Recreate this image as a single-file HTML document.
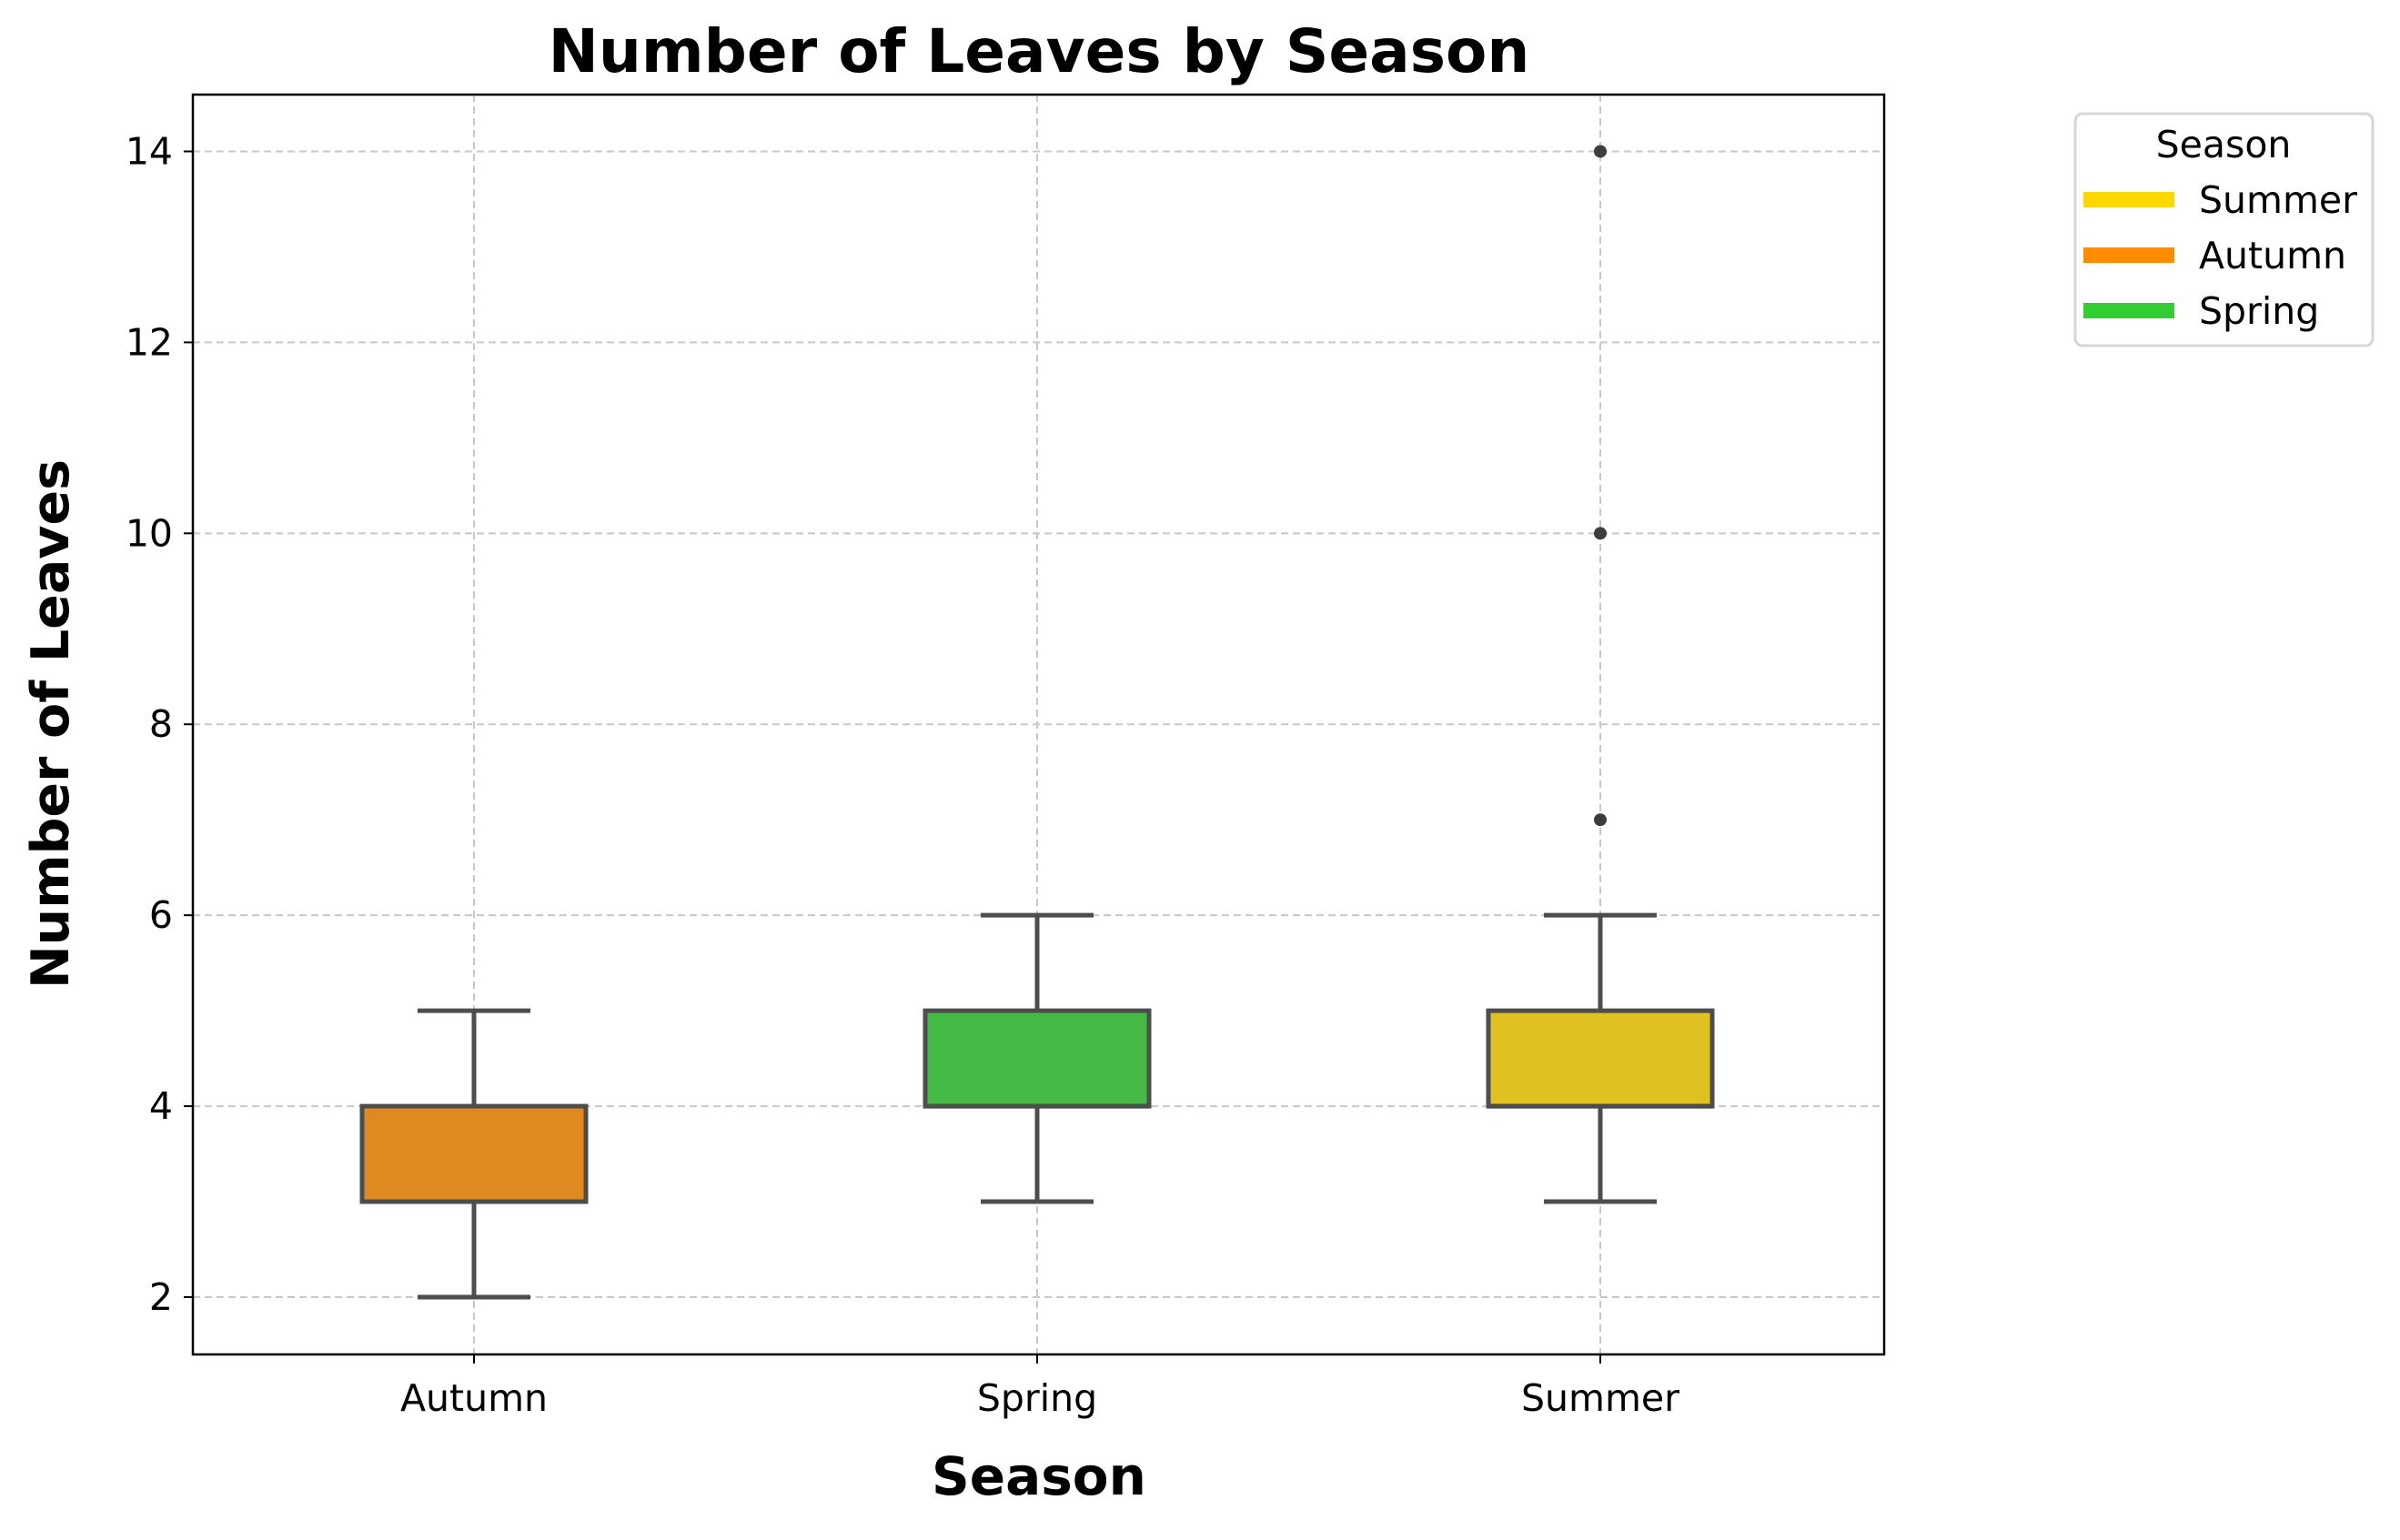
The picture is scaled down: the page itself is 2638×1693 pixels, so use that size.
<!DOCTYPE html>
<html><head><meta charset="utf-8"><style>
html,body{margin:0;padding:0;background:#fff;}
svg text{font-family:"DejaVu Sans","Liberation Sans",sans-serif;}
</style></head><body>
<svg id="chart" width="2638" height="1688" viewBox="0 0 2638 1688" xmlns="http://www.w3.org/2000/svg">
<rect width="2638" height="1688" fill="#fff"/>
<text x="1142" y="79" text-anchor="middle" font-size="66" font-weight="bold">Number of Leaves by Season</text>
<g id="grid"></g>
<g id="boxes"></g>
<rect x="212" y="104" width="1859" height="1385" fill="none" stroke="#000" stroke-width="2.5"/>
<g id="axes"></g>
<text x="1142" y="1643" text-anchor="middle" font-size="58" font-weight="bold">Season</text>
<text transform="translate(75,796) rotate(-90)" text-anchor="middle" font-size="57" font-weight="bold">Number of Leaves</text>
<g>
<rect x="2281" y="125" width="327" height="255" rx="8" fill="#fff" stroke="#d6d6d6" stroke-width="3"/>
<text x="2444" y="173" text-anchor="middle" font-size="41">Season</text>
<rect x="2290" y="211" width="100" height="17" fill="#FFD700"/>
<text x="2417" y="234" font-size="41">Summer</text>
<rect x="2290" y="272" width="100" height="17" fill="#FF8C00"/>
<text x="2417" y="295" font-size="41">Autumn</text>
<rect x="2290" y="333" width="100" height="17" fill="#32CD32"/>
<text x="2417" y="356" font-size="41">Spring</text>
</g>
</svg>
<script>
const categories = ["Autumn","Spring","Summer"];
const q1 = [3,4,4];
const q3 = [4,5,5];
const medians = [3,4,4];
const whiskerLow = [2,3,3];
const whiskerHigh = [5,6,6];
const outliers = [[],[],[7,10,14]];
const boxColors = ["#DF8A20","#45BA45","#DFC220"];
const yTicks = [2,4,6,8,10,12,14];

const NS="http://www.w3.org/2000/svg";
function y(v){return 1426 - (v-2)*104.96;}
function x(i){return 521 + i*619;}
function mk(tag,attrs,parent){const e=document.createElementNS(NS,tag);for(const k in attrs)e.setAttribute(k,attrs[k]);parent.appendChild(e);return e;}
const grid=document.getElementById('grid'),boxes=document.getElementById('boxes'),axes=document.getElementById('axes');
yTicks.forEach(t=>{
  const g=mk('line',{x1:212,x2:2071,y1:y(t),y2:y(t),stroke:'#c8c8c8','stroke-width':2,'stroke-dasharray':'8,5'},grid);
  
  
  const tk=mk('line',{x1:202,x2:212,y1:y(t),y2:y(t),stroke:'#000','stroke-width':2},axes);
  
  
  const tx=mk('text',{x:190,y:y(t)+14,'text-anchor':'end','font-size':41},axes);
  tx.textContent=t;
  
  
});
categories.forEach((c,i)=>{
  const cx=x(i);
  const g=mk('line',{x1:cx,x2:cx,y1:104,y2:1489,stroke:'#c8c8c8','stroke-width':2,'stroke-dasharray':'8,5'},grid);
  
  
  const tk=mk('line',{x1:cx,x2:cx,y1:1489,y2:1499,stroke:'#000','stroke-width':2},axes);
  
  
  const tx=mk('text',{x:cx,y:1551,'text-anchor':'middle','font-size':41},axes);
  tx.textContent=c;
  
  
  const st='#4d4d4d';
  const w1=mk('line',{x1:cx,x2:cx,y1:y(whiskerLow[i]),y2:y(q1[i]),stroke:st,'stroke-width':5},boxes);
  
  
  const w2=mk('line',{x1:cx,x2:cx,y1:y(q3[i]),y2:y(whiskerHigh[i]),stroke:st,'stroke-width':5},boxes);
  
  
  [whiskerLow[i],whiskerHigh[i]].forEach(v=>{
    const cap=mk('line',{x1:cx-62,x2:cx+62,y1:y(v),y2:y(v),stroke:st,'stroke-width':5},boxes);
    
    
  });
  const b=mk('rect',{x:cx-123,y:y(q3[i]),width:246,height:y(q1[i])-y(q3[i]),fill:boxColors[i],stroke:st,'stroke-width':5},boxes);
  
  
  const m=mk('line',{x1:cx-123,x2:cx+123,y1:y(medians[i]),y2:y(medians[i]),stroke:st,'stroke-width':5},boxes);
  
  
  outliers[i].forEach(v=>{
    const o=mk('circle',{cx:cx,cy:y(v),r:7,fill:'#3d3d3d'},boxes);
    
    
  });
});
</script>
</body></html>
